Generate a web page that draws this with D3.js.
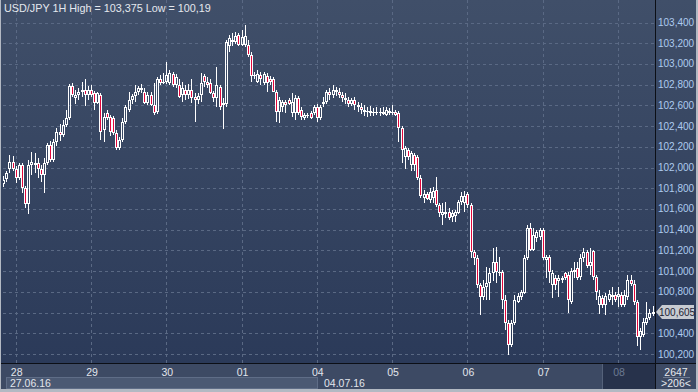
<!DOCTYPE html>
<html lang="en">
<head>
<meta charset="UTF-8" />
<title>USD/JPY 1H</title>
<script src="https://cdn.jsdelivr.net/npm/d3@7"></script>
<style>
  body { margin: 0; background: #b3b9c3; }
  svg { display: block; font-family: "Liberation Sans", Arial, sans-serif; }
</style>
</head>
<body>
<script>
const width = 698, height = 392;

// hourly candles [open, high, low, close], from 27.06 20:00
const ohlc = [
  [101.84,101.92,101.81,101.88],[101.89,101.97,101.86,101.95],[101.99,102.12,101.95,102.05],[102.05,102.11,101.97,101.99],
  [101.99,102.01,101.85,101.90],[101.90,102.04,101.88,102.02],[102.02,102.04,101.75,101.80],[101.80,101.82,101.61,101.65],
  [101.65,102.07,101.55,102.02],[102.02,102.15,101.93,102.05],[102.04,102.14,101.95,102.02],[102.04,102.09,101.90,101.99],
  [101.99,102.02,101.86,101.93],[101.93,102.09,101.75,102.04],[102.04,102.24,102.02,102.22],[102.22,102.26,102.05,102.07],
  [102.07,102.28,102.05,102.25],[102.25,102.38,102.21,102.34],[102.34,102.42,102.26,102.31],[102.31,102.46,102.29,102.41],
  [102.41,102.56,102.39,102.48],[102.48,102.81,102.46,102.79],[102.79,102.82,102.68,102.70],[102.67,102.75,102.61,102.70],
  [102.70,102.77,102.65,102.73],[102.73,102.83,102.68,102.75],[102.75,102.85,102.59,102.70],[102.70,102.79,102.65,102.75],
  [102.75,102.80,102.68,102.70],[102.72,102.74,102.56,102.62],[102.62,102.73,102.61,102.72],[102.70,102.72,102.27,102.34],
  [102.36,102.53,102.25,102.49],[102.53,102.56,102.46,102.48],[102.49,102.51,102.30,102.34],[102.48,102.50,102.31,102.33],
  [102.33,102.36,102.17,102.19],[102.19,102.29,102.17,102.27],[102.27,102.48,102.25,102.44],[102.44,102.60,102.42,102.58],
  [102.56,102.73,102.54,102.65],[102.65,102.71,102.61,102.69],[102.69,102.80,102.63,102.73],[102.73,102.79,102.70,102.77],
  [102.77,102.81,102.72,102.75],[102.73,102.77,102.61,102.62],[102.62,102.73,102.60,102.70],[102.70,102.73,102.59,102.60],
  [102.60,102.82,102.51,102.53],[102.54,102.87,102.52,102.85],[102.85,102.89,102.80,102.82],[102.83,102.91,102.81,102.82],
  [102.83,103.02,102.81,102.89],[102.82,102.94,102.80,102.91],[102.90,102.92,102.78,102.80],[102.80,102.90,102.77,102.87],
  [102.80,102.85,102.67,102.68],[102.70,102.83,102.63,102.77],[102.75,102.80,102.65,102.70],[102.70,102.81,102.66,102.75],
  [102.75,102.85,102.62,102.67],[102.68,102.72,102.44,102.65],[102.65,102.72,102.61,102.69],[102.70,102.91,102.63,102.82],
  [102.88,102.90,102.78,102.83],[102.83,102.87,102.77,102.80],[102.82,102.85,102.71,102.72],[102.72,102.74,102.63,102.67],
  [102.67,102.97,102.58,102.80],[102.78,102.80,102.56,102.58],[102.60,102.67,102.37,102.62],[102.61,103.23,102.58,103.21],
  [103.17,103.28,103.12,103.25],[103.23,103.30,103.17,103.21],[103.21,103.31,103.19,103.27],[103.28,103.30,103.17,103.18],
  [103.18,103.33,103.17,103.26],[103.18,103.375,103.16,103.27],[103.18,103.23,103.07,103.09],[103.09,103.12,102.83,102.88],
  [102.88,102.92,102.85,102.89],[102.83,102.94,102.82,102.90],[102.89,102.92,102.80,102.85],[102.82,102.92,102.80,102.90],
  [102.88,102.91,102.73,102.82],[102.85,102.88,102.80,102.83],[102.85,102.87,102.73,102.73],[102.73,102.75,102.44,102.54],
  [102.54,102.68,102.43,102.65],[102.58,102.65,102.54,102.63],[102.63,102.65,102.53,102.60],[102.65,102.67,102.60,102.61],
  [102.53,102.72,102.49,102.63],[102.53,102.70,102.46,102.67],[102.67,102.69,102.51,102.53],[102.56,102.58,102.46,102.49],
  [102.48,102.53,102.46,102.51],[102.51,102.53,102.48,102.50],[102.53,102.55,102.47,102.48],[102.53,102.60,102.51,102.58],
  [102.58,102.61,102.44,102.48],[102.48,102.60,102.46,102.58],[102.61,102.68,102.58,102.63],[102.63,102.75,102.61,102.73],
  [102.73,102.77,102.65,102.70],[102.70,102.80,102.67,102.75],[102.75,102.78,102.69,102.73],[102.73,102.77,102.67,102.70],
  [102.70,102.73,102.63,102.67],[102.67,102.72,102.61,102.65],[102.65,102.68,102.58,102.61],[102.61,102.67,102.59,102.65],
  [102.65,102.68,102.56,102.60],[102.60,102.63,102.54,102.58],[102.58,102.62,102.52,102.56],[102.56,102.60,102.50,102.54],
  [102.54,102.58,102.49,102.55],[102.55,102.59,102.50,102.53],[102.53,102.57,102.50,102.54],[102.54,102.58,102.51,102.53],
  [102.53,102.57,102.50,102.54],[102.54,102.58,102.51,102.52],[102.51,102.58,102.50,102.56],[102.55,102.57,102.51,102.53],
  [102.53,102.60,102.51,102.54],[102.54,102.56,102.50,102.51],[102.53,102.55,102.25,102.38],[102.38,102.40,102.04,102.17],
  [102.10,102.21,101.99,102.19],[102.17,102.19,102.07,102.10],[102.02,102.16,101.97,102.14],[102.12,102.14,101.97,102.02],
  [102.10,102.12,101.88,101.90],[101.90,101.93,101.71,101.73],[101.71,101.78,101.66,101.74],[101.74,101.76,101.69,101.70],
  [101.69,101.80,101.66,101.76],[101.71,101.81,101.66,101.77],[101.78,101.91,101.62,101.64],[101.64,101.66,101.52,101.56],
  [101.54,101.66,101.45,101.57],[101.57,101.67,101.51,101.55],[101.57,101.61,101.49,101.51],[101.52,101.59,101.47,101.56],
  [101.53,101.59,101.47,101.57],[101.56,101.69,101.55,101.67],[101.67,101.76,101.64,101.73],[101.66,101.77,101.57,101.73],
  [101.74,101.76,101.61,101.64],[101.64,101.66,101.13,101.18],[101.18,101.20,101.06,101.13],[101.13,101.16,100.84,100.87],
  [100.87,100.89,100.58,100.75],[100.75,100.91,100.72,100.85],[100.85,101.04,100.72,100.89],[100.89,101.03,100.72,100.98],
  [100.98,101.22,100.90,101.09],[101.09,101.23,100.89,100.99],[100.98,101.14,100.95,100.99],[100.99,101.01,100.63,100.72],
  [100.72,100.77,100.43,100.50],[100.50,100.53,100.19,100.29],[100.29,100.53,100.27,100.50],[100.50,100.77,100.48,100.72],
  [100.70,100.79,100.69,100.76],[100.75,100.82,100.72,100.80],[100.79,101.16,100.78,101.13],[101.13,101.45,101.11,101.42],
  [101.42,101.46,101.19,101.20],[101.20,101.42,101.19,101.35],[101.32,101.40,101.28,101.38],[101.33,101.42,101.30,101.40],
  [101.40,101.42,101.11,101.13],[101.11,101.16,100.93,101.14],[101.14,101.16,100.89,100.99],[100.87,101.01,100.74,100.98],
  [100.93,100.96,100.82,100.87],[100.90,100.96,100.75,100.93],[100.91,100.95,100.89,100.93],[100.98,100.99,100.91,100.93],
  [100.96,100.99,100.60,100.72],[100.70,101.03,100.68,101.00],[100.99,101.09,100.93,101.01],[101.03,101.09,100.91,100.93],
  [100.94,101.17,100.91,101.13],[101.13,101.22,101.09,101.18],[101.18,101.20,101.03,101.05],[101.05,101.22,100.96,101.09],
  [101.19,101.20,100.91,100.94],[100.94,100.96,100.72,100.80],[100.67,100.82,100.59,100.76],[100.74,100.77,100.64,100.67],
  [100.67,100.79,100.58,100.76],[100.72,100.82,100.70,100.78],[100.75,100.85,100.67,100.77],[100.77,100.80,100.70,100.72],
  [100.75,100.85,100.65,100.78],[100.77,100.80,100.65,100.67],[100.67,100.82,100.65,100.77],[100.75,100.96,100.72,100.91],
  [100.91,100.96,100.86,100.88],[100.88,100.91,100.67,100.70],[100.70,100.72,100.28,100.36],[100.36,100.45,100.24,100.42],
  [100.38,100.55,100.36,100.51],[100.50,100.70,100.48,100.55],[100.55,100.63,100.53,100.60],[100.59,100.66,100.57,100.605]
];

const dayLabels = ['28', '29', '30', '01', '04', '05', '06', '07', '08'];
const dayStart  = [4, 28, 52, 76, 100, 124, 148, 172, 196];
const weekLabels = ['27.06.16', '04.07.16'];
const weekStart  = [0, 100];
const priceTicks = [100.2, 100.4, 100.6, 100.8, 101.0, 101.2, 101.4, 101.6, 101.8,
                    102.0, 102.2, 102.4, 102.6, 102.8, 103.0, 103.2, 103.4];
const lastPrice = 100.605;
const title = 'USD/JPY 1H High = 103,375 Low = 100,19';
const barCount = '2647', visibleBars = '>206<';

const plot = { left: 3, right: 655, top: 0, bottom: 363 };

const locale = d3.formatLocale({ decimal: ',', thousands: ' ', grouping: [3], currency: ['', ''] });
const fmt = locale.format('.3f');

const x = d3.scaleLinear().domain([0, ohlc.length - 1]).range([3.15, 652.5]);
const y = d3.scaleLinear().domain([100.2, 103.4]).range([354, 22.5]);

const svg = d3.select('body').append('svg')
  .attr('width', width).attr('height', height);

const defs = svg.append('defs');
const grad = defs.append('linearGradient').attr('id', 'bg')
  .attr('x1', 0).attr('y1', 0).attr('x2', 0).attr('y2', 1);
grad.append('stop').attr('offset', '0%').attr('stop-color', '#404f69');
grad.append('stop').attr('offset', '100%').attr('stop-color', '#2b3a59');
defs.append('clipPath').attr('id', 'clip').append('rect')
  .attr('x', plot.left).attr('y', plot.top)
  .attr('width', plot.right - plot.left).attr('height', plot.bottom - plot.top);

// frame + backgrounds
svg.append('rect').attr('width', width).attr('height', height).attr('fill', '#b3b9c3');
svg.append('rect').attr('x', 1).attr('y', 0).attr('width', width - 3).attr('height', plot.bottom)
  .attr('fill', 'url(#bg)');
svg.append('rect').attr('x', 1).attr('y', plot.bottom).attr('width', width - 3).attr('height', 389 - plot.bottom)
  .attr('fill', '#3d4a64');

// grid
const grid = svg.append('g').attr('stroke', '#5a6984').attr('stroke-dasharray', '3,3').attr('stroke-width', 1);
grid.selectAll('line.h').data(priceTicks).join('line')
  .attr('x1', plot.left).attr('x2', plot.right)
  .attr('y1', d => Math.round(y(d)) + 0.5).attr('y2', d => Math.round(y(d)) + 0.5);
grid.selectAll('line.v').data(dayStart).join('line')
  .attr('y1', plot.top).attr('y2', plot.bottom)
  .attr('x1', d => Math.round(x(d)) + 0.5).attr('x2', d => Math.round(x(d)) + 0.5);

// title
svg.append('text').attr('x', 4).attr('y', 12).attr('fill', '#e4e8ee')
  .attr('font-size', 10.8).text(title);

// candles
const cg = svg.append('g').attr('clip-path', 'url(#clip)');
const bodyTop = d => Math.round(y(Math.max(d[0], d[3])));
const bodyBot = d => Math.max(Math.round(y(Math.min(d[0], d[3]))), bodyTop(d) + 1);
const cx = (d, i) => Math.round(x(i));

cg.selectAll('line.up').data(ohlc).join('line')
  .attr('stroke', '#ffffff')
  .attr('x1', (d, i) => cx(d, i) + 0.5).attr('x2', (d, i) => cx(d, i) + 0.5)
  .attr('y1', d => Math.round(y(d[1]))).attr('y2', d => bodyTop(d));
cg.selectAll('line.dn').data(ohlc).join('line')
  .attr('stroke', '#ffffff')
  .attr('x1', (d, i) => cx(d, i) + 0.5).attr('x2', (d, i) => cx(d, i) + 0.5)
  .attr('y1', d => bodyBot(d)).attr('y2', d => Math.round(y(d[2])));
cg.selectAll('rect.body').data(ohlc).join('rect')
  .attr('x', (d, i) => cx(d, i) - 0.5)
  .attr('y', d => bodyTop(d) + 0.5)
  .attr('width', 2)
  .attr('height', d => Math.max(bodyBot(d) - bodyTop(d) - 1, 0.01))
  .attr('fill', d => d[3] < d[0] ? '#e2063b' : 'none')
  .attr('stroke', '#ffffff').attr('stroke-width', 1);

// axis separators
svg.append('line').attr('x1', plot.right + 0.5).attr('x2', plot.right + 0.5)
  .attr('y1', 0).attr('y2', 389).attr('stroke', '#0c0f16');
svg.append('line').attr('x1', 1).attr('x2', width - 2)
  .attr('y1', plot.bottom + 0.5).attr('y2', plot.bottom + 0.5).attr('stroke', '#0c0f16');

// price axis
svg.append('g').selectAll('text').data(priceTicks).join('text')
  .attr('x', 658).attr('y', d => y(d) + 3.5)
  .attr('fill', '#aecbef').attr('font-size', 10)
  .text(d => fmt(d));

// last price marker
const ly = Math.round(y(lastPrice));
svg.append('path')
  .attr('d', `M656,${ly} L662,${ly - 7} L694,${ly - 7} L694,${ly + 7} L662,${ly + 7} Z`)
  .attr('fill', '#c7cbd1');
svg.append('text').attr('x', 659).attr('y', ly + 3.5).attr('fill', '#1b2334')
  .attr('font-size', 10).text(fmt(lastPrice));

// current-day shading in time axis
const curX = 602;
svg.append('rect').attr('x', curX).attr('y', plot.bottom + 1)
  .attr('width', plot.right - curX).attr('height', 389 - plot.bottom - 1).attr('fill', '#27324b');
svg.append('line').attr('x1', curX + 0.5).attr('x2', curX + 0.5)
  .attr('y1', plot.bottom + 1).attr('y2', 389).attr('stroke', '#55627a');

// day labels
svg.append('g').selectAll('text').data(dayLabels).join('text')
  .attr('x', (d, i) => x(dayStart[i]) + 1)
  .attr('y', 376)
  .attr('text-anchor', 'middle')
  .attr('font-size', 10.5)
  .attr('fill', (d, i) => x(dayStart[i]) > curX ? '#6c7a92' : '#e2e6ec')
  .text(d => d);

// week boxes
const weekX0 = weekStart.map(i => Math.max(5, Math.round(x(i)) + 3));
const weekX1 = [weekX0[1] - 3, curX - 1];
svg.append('g').selectAll('rect').data(weekLabels).join('rect')
  .attr('x', (d, i) => weekX0[i] + 0.5).attr('y', 377.5)
  .attr('width', (d, i) => weekX1[i] - weekX0[i]).attr('height', 11)
  .attr('fill', (d, i) => i === 0 ? '#4b5973' : 'none')
  .attr('stroke', (d, i) => i === 0 ? '#5f6d87' : 'none');
svg.append('g').selectAll('text').data(weekLabels).join('text')
  .attr('x', (d, i) => weekX0[i] + 4).attr('y', 387)
  .attr('font-size', 10.5).attr('fill', '#e2e6ec')
  .text(d => d);

// bar counters
svg.append('text').attr('x', 676).attr('y', 376).attr('text-anchor', 'middle')
  .attr('font-size', 10.5).attr('fill', '#e6e9ee').text(barCount);
svg.append('line').attr('x1', 663).attr('x2', 690).attr('y1', 377.5).attr('y2', 377.5)
  .attr('stroke', '#6d7a90');
svg.append('text').attr('x', 676).attr('y', 387).attr('text-anchor', 'middle')
  .attr('font-size', 10.5).attr('fill', '#e6e9ee').text(visibleBars);
</script>
</body>
</html>
